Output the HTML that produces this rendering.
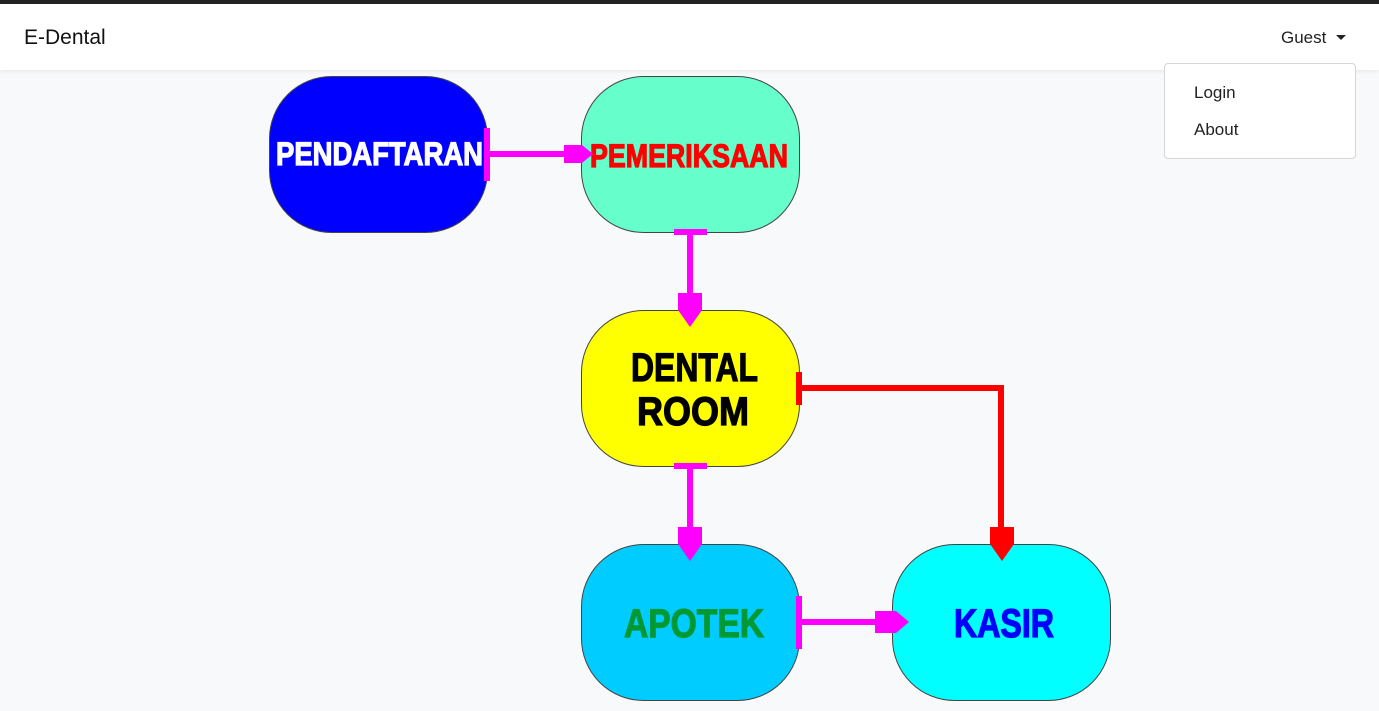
<!DOCTYPE html>
<html><head><meta charset="utf-8"><style>
html,body{margin:0;padding:0;width:1379px;height:711px;overflow:hidden;background:#f8f9fa;font-family:"Liberation Sans",sans-serif}
.top{position:absolute;left:0;top:0;width:1379px;height:4px;background:#222}
.nav{position:absolute;left:0;top:4px;width:1379px;height:66px;background:#fff;box-shadow:0 1px 4px rgba(0,0,0,0.08)}
.brand{position:absolute;left:24px;top:22px;font-size:21px;color:#111}
.guest{position:absolute;left:1281px;top:24px;font-size:17px;color:#222}
.caret{position:absolute;left:1336px;top:31px;width:0;height:0;border-left:5px solid transparent;border-right:5px solid transparent;border-top:5px solid #222}
.dd{position:absolute;left:1164px;top:63px;width:190px;height:94px;background:#fff;border:1px solid #d6d6d6;border-radius:4px}
.dd div{position:absolute;left:29px;font-size:17px;color:#222}
svg{position:absolute;left:0;top:0}
</style></head><body>
<svg width="1379" height="711">
<g stroke="#444" stroke-width="1">
<rect x="269.5" y="76.5" width="218" height="156" rx="62" fill="#0000ff"/>
<rect x="581.5" y="76.5" width="218" height="156" rx="62" fill="#66ffcc"/>
<rect x="581.5" y="310.5" width="218" height="156" rx="62" fill="#ffff00"/>
<rect x="581.5" y="544.5" width="218" height="156" rx="62" fill="#00ccff"/>
<rect x="892.5" y="544.5" width="218" height="156" rx="62" fill="#00ffff"/>
</g>
<g font-family="Liberation Sans, sans-serif" font-weight="bold" text-anchor="start" stroke-width="1.2">
<text x="276" y="165" font-size="32" fill="#fff" stroke="#fff" textLength="207" lengthAdjust="spacingAndGlyphs">PENDAFTARAN</text>
<text x="590" y="167" font-size="32" fill="#ff0000" stroke="#ff0000" textLength="198" lengthAdjust="spacingAndGlyphs">PEMERIKSAAN</text>
<text x="631" y="381" font-size="40" fill="#000" stroke="#000" textLength="127" lengthAdjust="spacingAndGlyphs">DENTAL</text>
<text x="637" y="425" font-size="40" fill="#000" stroke="#000" textLength="112" lengthAdjust="spacingAndGlyphs">ROOM</text>
<text x="624" y="637" font-size="40" fill="#009933" stroke="#009933" textLength="140" lengthAdjust="spacingAndGlyphs">APOTEK</text>
<text x="954" y="637" font-size="40" fill="#0000ff" stroke="#0000ff" textLength="100" lengthAdjust="spacingAndGlyphs">KASIR</text>
</g>
<g fill="#ff00ff" stroke="none">
<rect x="484" y="128" width="6" height="53"/>
<rect x="487" y="151" width="80" height="6"/>
<polygon points="564,145 582,145 593,154 582,163 564,163"/>
<rect x="674" y="229" width="33" height="6"/>
<rect x="687" y="232" width="6" height="64"/>
<polygon points="678,293 702,293 702,310 690,327 678,310"/>
<rect x="674" y="463" width="33" height="6"/>
<rect x="687" y="466" width="6" height="64"/>
<polygon points="678,527 702,527 702,544 690,561 678,544"/>
<rect x="796" y="596" width="6" height="53"/>
<rect x="799" y="619" width="80" height="6"/>
<polygon points="875,611 896,611 909,622 896,633 875,633"/>
</g>
<g fill="#ff0000" stroke="none">
<rect x="796" y="372" width="6" height="33"/>
<rect x="799" y="385" width="205" height="6"/>
<rect x="998" y="385" width="6" height="145"/>
<polygon points="990,527 1014,527 1014,544 1002,561 990,544"/>
</g>
</svg>
<div class="top"></div>
<div class="nav"><div class="brand">E-Dental</div><div class="guest">Guest</div><div class="caret"></div></div>
<div class="dd"><div style="top:19px">Login</div><div style="top:56px">About</div></div>
</body></html>
